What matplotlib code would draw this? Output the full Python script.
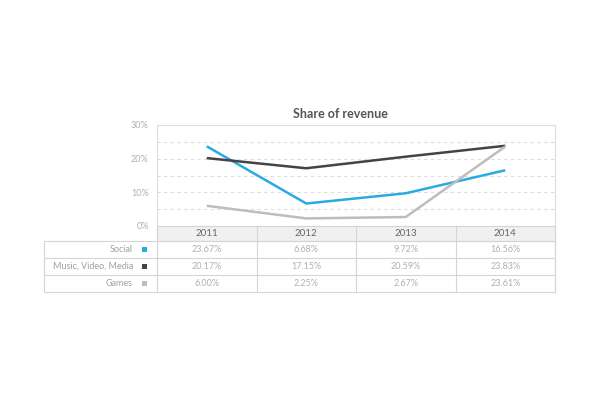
import matplotlib.pyplot as plt
from matplotlib.patches import Rectangle

plt.rcParams['font.family'] = ['Lato', 'DejaVu Sans']

years = ["2011", "2012", "2013", "2014"]
series_names = ["Social", "Music, Video, Media", "Games"]
social = [23.67, 6.68, 9.72, 16.56]
music = [20.17, 17.15, 20.59, 23.83]
games = [6.00, 2.25, 2.67, 23.61]
colors = ["#29abe2", "#444444", "#bdbdbd"]
values = [social, music, games]

fig = plt.figure(figsize=(6, 4), dpi=100)
W, H = 600, 400

# plot area in pixels
px_l, px_r, px_t, px_b = 157, 555, 125, 226
ax = fig.add_axes([px_l / W, 1 - px_b / H, (px_r - px_l) / W, (px_b - px_t) / H])
ax.set_xlim(-0.5, len(years) - 0.5)
ax.set_ylim(0, 30)
for y in [5, 10, 15, 20, 25]:
    ax.axhline(y, color="#dddddd", lw=0.8, ls=(0, (3, 3)), zorder=1)
for vals, c in zip(values, colors):
    ax.plot(range(len(years)), vals, color=c, lw=1.8, zorder=3, solid_capstyle="butt")
ax.set_yticks([0, 10, 20, 30])
ax.set_yticklabels(["0%", "10%", "20%", "30%"], fontsize=6.5, color="#b0b0b0")
ax.tick_params(axis="y", length=0, pad=6)
ax.set_xticks([])
for s in ax.spines.values():
    s.set_color("#dddddd")
    s.set_linewidth(0.8)
ax.set_title("Share of revenue", fontsize=9, fontweight="bold", color="#555555", pad=5, x=0.46)

# table drawn in pixel coordinates on an overlay axes
tab = fig.add_axes([0, 0, 1, 1])
tab.set_xlim(0, W)
tab.set_ylim(H, 0)
tab.axis("off")

tbl_l = 44
col_w = (px_r - px_l) / len(years)
hdr_h = 15
row_h = 17
border = "#d5d5d5"

tab.add_patch(Rectangle((px_l, px_b), px_r - px_l, hdr_h, facecolor="#f0f0f0",
                        edgecolor=border, lw=0.8))
for i, yr in enumerate(years):
    x0 = px_l + i * col_w
    tab.plot([x0, x0], [px_b, px_b + hdr_h + row_h * len(series_names)], color=border, lw=0.8)
    tab.text(x0 + col_w / 2, px_b + hdr_h / 2 + 0.5, yr, ha="center", va="center",
             fontsize=7, color="#666666")

body_t = px_b + hdr_h
tab.add_patch(Rectangle((tbl_l, body_t), px_r - tbl_l, row_h * len(series_names),
                        facecolor="none", edgecolor=border, lw=0.8))
for r, (name, vals, c) in enumerate(zip(series_names, values, colors)):
    yc = body_t + r * row_h + row_h / 2
    if r > 0:
        tab.plot([tbl_l, px_r], [body_t + r * row_h] * 2, color=border, lw=0.8)
    tab.text(px_l - 24, yc, name, ha="right", va="center", fontsize=6.5, color="#a0a0a0")
    tab.add_patch(Rectangle((px_l - 15, yc - 2.5), 5, 5, facecolor=c, edgecolor="none"))
    for i, v in enumerate(vals):
        tab.text(px_l + i * col_w + col_w / 2, yc, f"{v:.2f}%", ha="center", va="center",
                 fontsize=6.5, color="#b0b0b0")
tab.plot([px_r, px_r], [px_b, body_t + row_h * len(series_names)], color=border, lw=0.8)

fig.savefig("out.png", dpi=100, facecolor="white")
